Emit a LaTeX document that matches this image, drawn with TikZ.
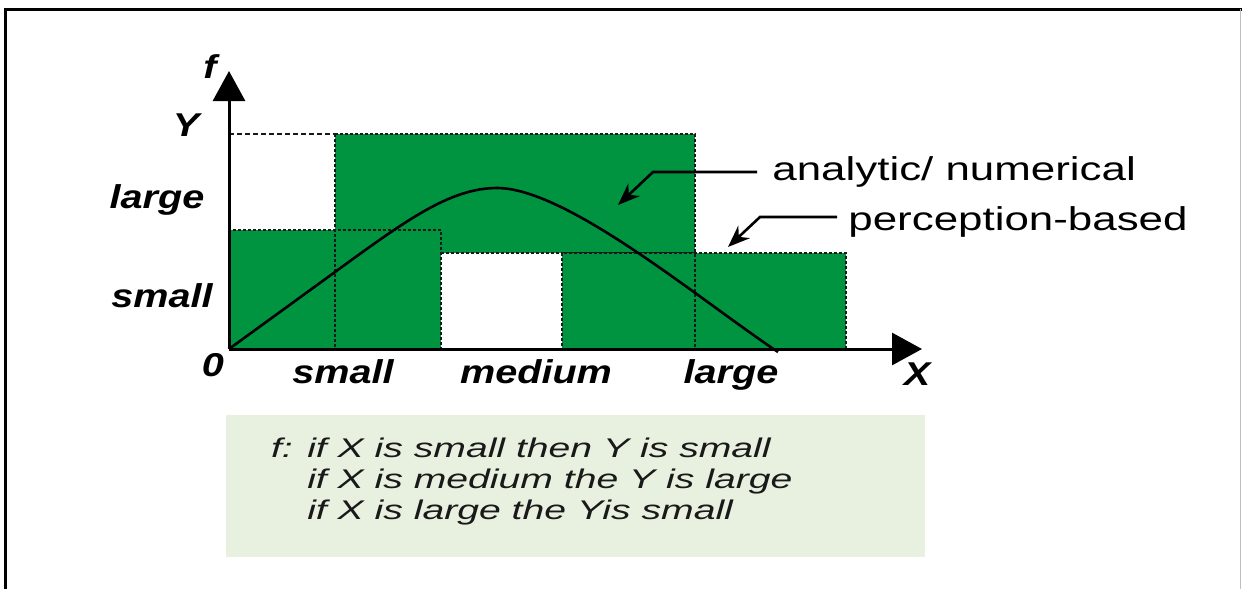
\documentclass[tikz,border=0pt]{standalone}
\usepackage{fontspec}
\setmainfont{Liberation Sans}
\usepackage{graphicx}
\usetikzlibrary{arrows.meta, positioning}
\definecolor{fuzzyGreen}{RGB}{0,148,64}
\definecolor{ruleBg}{RGB}{232,241,224}
\newcommand{\widen}[2]{\scalebox{#1}[1]{#2}}
\tikzset{
  fz/axis/.style={line width=1.5pt, -{Triangle[length=15pt,width=16pt]}},
  fz/cell/.style={fill=fuzzyGreen, draw=black!90, line width=1.3pt,
    dash pattern=on 1.5pt off 1pt},
  fz/grid/.style={draw=black!90, line width=1.3pt, dash pattern=on 1.5pt off 1pt},
  fz/top/.style={draw=black!90, line width=1.2pt, dash pattern=on 2.5pt off 1.5pt},
  fz/lbl/.style={font=\fontsize{16.5}{18}\selectfont\bfseries\itshape,
    inner sep=0pt, anchor=base},
  fz/note/.style={font=\fontsize{16.5}{18}\selectfont, inner sep=0pt, anchor=west},
  fz/arr/.style={-{Stealth[length=11pt,width=8.5pt]}, line width=1.3pt},
  fz/rules/.style={fill=ruleBg, minimum width=349.5pt, minimum height=71pt,
    inner sep=0pt},
  fz/ruletext/.style={font=\fontsize{13.5}{15.5}\selectfont\itshape,
    inner sep=0pt, anchor=west, text=black!90}
}
\begin{document}
\begin{tikzpicture}[x=0.5pt, y=-0.5pt]
  \useasboundingbox (0,0) rectangle (1242,589);
  % frame
  \draw[line width=1.5pt] (5,589) -- (5,9) -- (1242,9);
  \draw[black!25, line width=0.5pt] (1240,9) -- (1240,589);

  % rule cells
  \path[fz/cell] (335,134) rectangle (695,253);
  \path[fz/cell] (229,230) rectangle (441,349);
  \path[fz/cell] (562,253) rectangle (846,349);
  \draw[fz/grid] (335,134) -- (335,349);
  \draw[fz/grid] (695,134) -- (695,349);
  \draw[fz/top] (229,134) -- (335,134);

  % axes
  \coordinate (O) at (229,349);
  \coordinate (ytip) at (229,71);
  \coordinate (xtip) at (922,349);

  % f(X)
  \draw[line width=1.3pt] (O) -- (335,272)
    .. controls (405,221) and (450,188) .. (497,188)
    .. controls (567,188) and (700,300) .. (778,352);

  \draw[fz/axis] (O) -- (ytip);
  \draw[fz/axis] (O) -- (xtip);

  \node[fz/lbl] (fl) at (210,78) {\widen{1.2}{f}};
  \node[fz/lbl] (yl) at (186,136) {\widen{1.2}{Y}};
  \node[fz/lbl] (ylarge) at (157,208) {\widen{1.2}{large}};
  \node[fz/lbl] (ysmall) at (162,307) {\widen{1.2}{small}};
  \node[fz/lbl] (zero) at (213,376) {\widen{1.2}{0}};
  \node[fz/lbl] (xsmall) at (343,383) {\widen{1.2}{small}};
  \node[fz/lbl] (xmedium) at (536,383) {\widen{1.2}{medium}};
  \node[fz/lbl] (xlarge) at (731,383) {\widen{1.2}{large}};
  \node[fz/lbl] (xl) at (917,385) {\widen{1.2}{X}};

  % annotations
  \node[fz/note] (analytic) at (772,172) {\widen{1.33}{analytic/ numerical}};
  \node[fz/note] (percep) at (848,222) {\widen{1.33}{perception-based}};
  \coordinate (anTip) at (618,205);
  \coordinate (peTip) at (728,247);
  \draw[fz/arr] ([xshift=-7.5pt]analytic.west) -- ++(-104,0) -- (anTip);
  \draw[fz/arr] ([xshift=-5.5pt,yshift=2.5pt]percep.west) -- ++(-77,0) -- (peTip);

  % rule base
  \node[fz/rules] (rules) at (575.5,486) {};
  \node[fz/ruletext] (ruletext) at ([xshift=22.5pt,yshift=2pt]rules.west)
    {\widen{1.45}{\begin{tabular}{@{}l@{}}f: if X is small then Y is small\\
     \phantom{f: }if X is medium the Y is large\\
     \phantom{f: }if X is large the Yis small\end{tabular}}};
\end{tikzpicture}
\end{document}
